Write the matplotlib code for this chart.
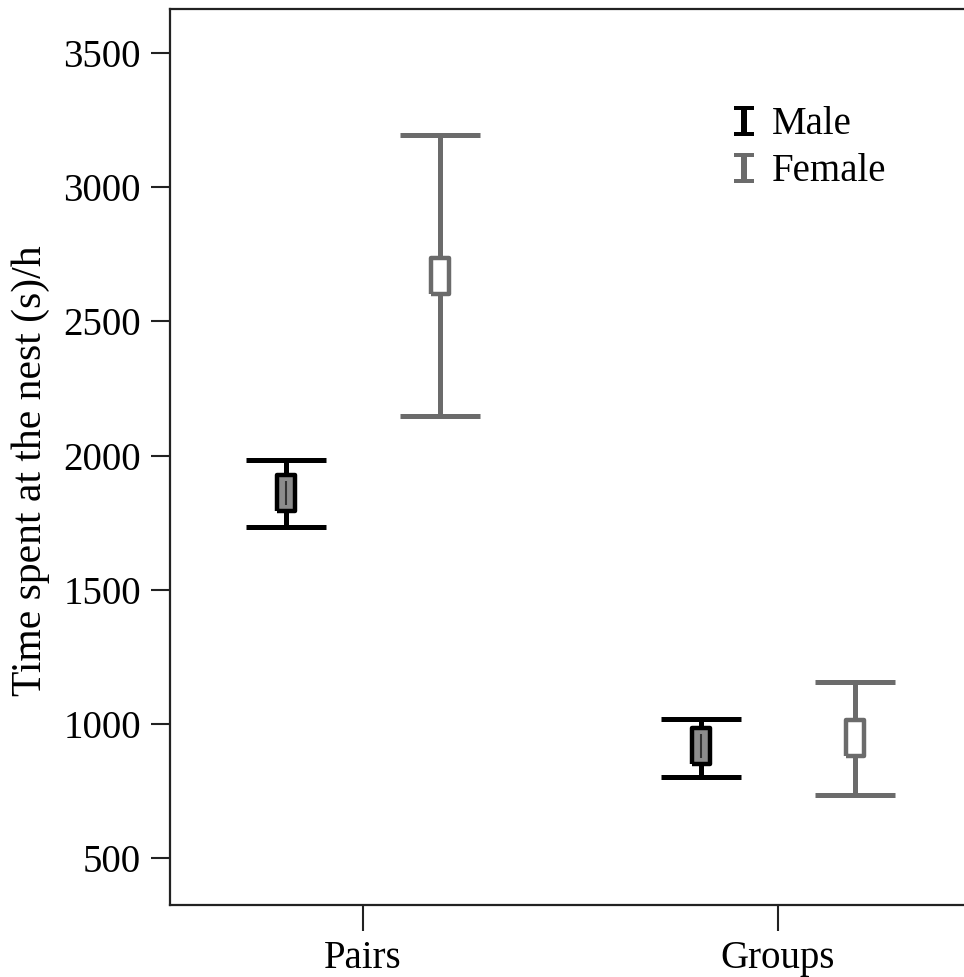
import numpy as np
import matplotlib
matplotlib.use('Agg')
import matplotlib.pyplot as plt
from matplotlib.lines import Line2D

plt.rcParams['font.family'] = ['Liberation Serif', 'DejaVu Serif']

# data
groups = ['Pairs', 'Groups']
male_mean = [1862, 917]
male_low = [1735, 803]
male_high = [1983, 1018]
female_mean = [2668, 948]
female_low = [2148, 736]
female_high = [3195, 1155]

black = '#000000'
grey = '#6b6b6b'

fig = plt.figure(figsize=(9.64, 9.77), dpi=100)
ax = fig.add_axes([170 / 964, 72 / 977, 801 / 964, 896 / 977])

x = np.arange(len(groups))
off = 0.185

# tall narrow box marker
rect = [(-0.5, -1), (0.5, -1), (0.5, 1), (-0.5, 1), (-0.5, -1)]

def draw(xs, mean, low, high, col, face, inner=None):
    mean = np.array(mean)
    yerr = [mean - np.array(low), np.array(high) - mean]
    ax.errorbar(xs, mean, yerr=yerr, fmt='none', ecolor=col,
                elinewidth=3.6, capsize=29, capthick=3.6, zorder=2)
    ax.plot(xs, mean, linestyle='none', marker=rect, markersize=26,
            markerfacecolor=face, markeredgecolor=col, markeredgewidth=3.2,
            zorder=3)
    if inner:
        ax.plot(xs, mean, linestyle='none', marker='|', markersize=17,
                markeredgewidth=1.5, color=inner, zorder=4)

draw(x - off, male_mean, male_low, male_high, black, '#8c8c8c', '#333333')
draw(x + off, female_mean, female_low, female_high, grey, 'white')

ax.set_xlim(-0.465, 1.465)
ax.set_ylim(325, 3664)
ax.set_xticks(x)
ax.set_xticklabels(groups)
ax.set_yticks(np.arange(500, 3501, 500))
ax.tick_params(axis='both', labelsize=28, width=1.5, length=14, pad=7,
               color='#222222')
ax.tick_params(axis='x', length=19, pad=6)
ax.set_ylabel('Time spent at the nest (s)/h', fontsize=30)
ax.yaxis.set_label_coords(-0.15, 0.485)
for s in ax.spines.values():
    s.set_linewidth(1.6)
    s.set_color('#222222')

ibeam = [(-0.65, 1), (0.65, 1), (0.65, 0.7), (0.2, 0.7), (0.2, -0.7),
         (0.65, -0.7), (0.65, -1), (-0.65, -1), (-0.65, -0.7), (-0.2, -0.7),
         (-0.2, 0.7), (-0.65, 0.7), (-0.65, 1)]
handles = [Line2D([], [], linestyle='none', marker=ibeam, markersize=22,
                  color=black, markeredgewidth=0),
           Line2D([], [], linestyle='none', marker=ibeam, markersize=22,
                  color=grey, markeredgewidth=0)]
ax.legend(handles, ['Male', 'Female'], loc='upper left',
          bbox_to_anchor=(0.678, 0.913), frameon=False, fontsize=28,
          handlelength=0.6, handletextpad=0.4, labelspacing=0.25,
          borderpad=0)

fig.savefig('out.png', dpi=100)
